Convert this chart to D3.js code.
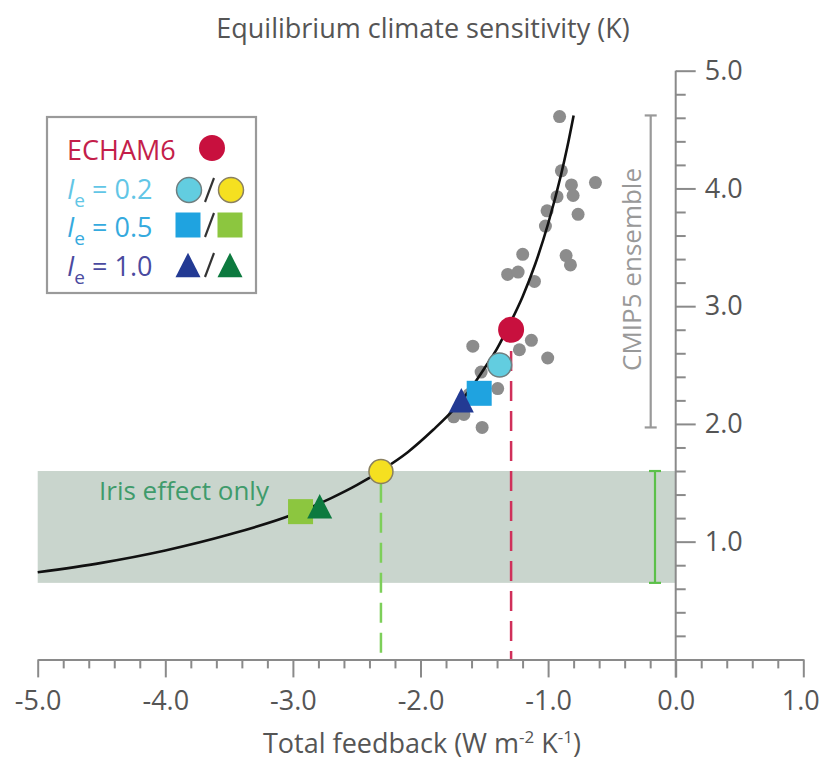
<!DOCTYPE html>
<html><head><meta charset="utf-8">
<script src="https://cdn.jsdelivr.net/npm/d3@7"></script>
<style>
html,body{margin:0;padding:0;background:#fff;}
svg{display:block;font-family:"Open Sans",Lato,sans-serif;}
</style></head>
<body><svg id="chart" width="821" height="763"></svg>
<script>
// ---- data ----
const curveLambda = [-5.0,-4.5,-4.0,-3.5,-3.0,-2.7,-2.5,-2.3,-2.1,-1.9,-1.75,-1.6,-1.5,-1.4,-1.3,-1.2,-1.1,-1.0,-0.9,-0.85,-0.8];
const curveECS    = [0.74,0.82,0.925,1.06,1.23,1.37,1.48,1.61,1.76,1.95,2.11,2.31,2.47,2.64,2.85,3.08,3.36,3.70,4.11,4.35,4.62];

const cmipLambda = [-0.91,-0.896,-0.817,-0.629,-0.804,-0.93,-1.008,-0.765,-1.021,-1.199,-0.859,-0.825,-1.317,-1.235,-1.107,-1.59,-1.131,-1.225,-1.003,-1.525,-1.395,-1.74,-1.66,-1.517,-1.62];
const cmipECS    = [4.61,4.15,4.03,4.05,3.94,3.93,3.81,3.78,3.68,3.44,3.43,3.35,3.27,3.29,3.21,2.66,2.71,2.63,2.56,2.44,2.30,2.06,2.08,1.97,2.25];

const markerNames  = ["ECHAM6","Ie0.2 cyan","Ie0.2 yellow","Ie0.5 blue","Ie0.5 green","Ie1.0 navy","Ie1.0 green"];
const markerLambda = [-1.29,-1.38,-2.31,-1.54,-2.94,-1.68,-2.79];
const markerECS    = [2.80,2.50,1.595,2.26,1.255,2.20,1.30];
const markerShape  = ["circle","circle","circle","square","square","triangle","triangle"];
const markerColor  = ["#c8103e","#62cde0","#f5e020","#1fa3e0","#8cc63f","#233a93","#0d7a3f"];
const markerStroke = [null,"#6f7f80","#8a8060",null,null,null,null];

const xTicks = [-5,-4,-3,-2,-1,0,1];
const xTickLabels = ["-5.0","-4.0","-3.0","-2.0","-1.0","0.0","1.0"];
const yTicks = [1,2,3,4,5];
const yTickLabels = ["1.0","2.0","3.0","4.0","5.0"];

const cmipRange = [1.97, 4.62];
const irisRange = [0.65, 1.60];
const irisLambda = [-5.0, 0.0];
const echamDrop = [-1.29, 2.62];
const irisDrop = [-2.31, 1.50];

const legendRows = [
  {label:"ECHAM6", color:"#c41e4a", sub:false, val:""},
  {label:"I", color:"#62c6e6", sub:true, val:" = 0.2"},
  {label:"I", color:"#35aade", sub:true, val:" = 0.5"},
  {label:"I", color:"#4a4aa0", sub:true, val:" = 1.0"}
];

// ---- drawing ----
const svg = d3.select("#chart");
const FONT = "'Open Sans',Lato,sans-serif";
const FS = 27;
const x = d3.scaleLinear().domain([-5, 1]).range([37.7, 803.3]);
const y = d3.scaleLinear().domain([0, 5]).range([659.4, 70.7]);
const axisGray = "#8a8a8a";
const textGray = "#555";

// Iris band
svg.append("rect")
  .attr("x", x(irisLambda[0])).attr("y", y(irisRange[1]))
  .attr("width", x(irisLambda[1]) - x(irisLambda[0]))
  .attr("height", y(irisRange[0]) - y(irisRange[1]))
  .attr("fill", "#c9d5cd");

svg.append("text").attr("x", 99).attr("y", 500)
  .attr("font-size", 26).attr("fill", "#3f9b6b").text("Iris effect only");

// dashed drop lines
svg.append("line").attr("x1", x(echamDrop[0])).attr("x2", x(echamDrop[0]))
  .attr("y1", y(echamDrop[1])).attr("y2", y(0)).attr("stroke", "#d0305a")
  .attr("stroke-width", 2.5).attr("stroke-dasharray", "20,10");
svg.append("line").attr("x1", x(irisDrop[0])).attr("x2", x(irisDrop[0]))
  .attr("y1", y(irisDrop[1])).attr("y2", y(0)).attr("stroke", "#7dcf5a")
  .attr("stroke-width", 2.5).attr("stroke-dasharray", "20,10");

// CMIP5 dots
svg.append("g").selectAll("circle").data(d3.range(cmipLambda.length)).join("circle")
  .attr("cx", i => x(cmipLambda[i])).attr("cy", i => y(cmipECS[i]))
  .attr("r", 6.5).attr("fill", "#8c8c8c");

// curve
const line = d3.line().x(i => x(curveLambda[i])).y(i => y(curveECS[i])).curve(d3.curveMonotoneX);
svg.append("path").attr("d", line(d3.range(curveLambda.length)))
  .attr("fill", "none").attr("stroke", "#111").attr("stroke-width", 2.6);

// markers
function drawMarker(g, shape, cx, cy, color, stroke, size) {
  if (shape === "circle") {
    g.append("circle").attr("cx", cx).attr("cy", cy).attr("r", size/2)
      .attr("fill", color).attr("stroke", stroke || "none").attr("stroke-width", stroke ? 1.5 : 0);
  } else if (shape === "square") {
    g.append("rect").attr("x", cx - size/2).attr("y", cy - size/2)
      .attr("width", size).attr("height", size).attr("fill", color);
  } else {
    const h = size * 0.98;
    g.append("path").attr("d", `M${cx},${cy - h/2}L${cx + size/2},${cy + h/2}L${cx - size/2},${cy + h/2}Z`)
      .attr("fill", color);
  }
}
const mg = svg.append("g");
const order = [3, 5, 4, 6, 1, 2, 0];
order.forEach(i => {
  const size = markerShape[i] === "circle" ? (i === 0 ? 26 : 24) : 25;
  drawMarker(mg, markerShape[i], x(markerLambda[i]), y(markerECS[i]), markerColor[i], markerStroke[i], size);
});

// CMIP5 range bar
const cmx = 650.7;
const cg = svg.append("g").attr("stroke", "#999").attr("stroke-width", 2.2);
cg.append("line").attr("x1", cmx).attr("x2", cmx).attr("y1", y(cmipRange[1])).attr("y2", y(cmipRange[0]));
cg.append("line").attr("x1", cmx - 6).attr("x2", cmx + 6).attr("y1", y(cmipRange[1])).attr("y2", y(cmipRange[1]));
cg.append("line").attr("x1", cmx - 6).attr("x2", cmx + 6).attr("y1", y(cmipRange[0])).attr("y2", y(cmipRange[0]));
svg.append("text").attr("transform", `translate(641,${(y(cmipRange[0]) + y(cmipRange[1])) / 2 - 2}) rotate(-90)`)
  .attr("text-anchor", "middle").attr("font-size", 26).attr("fill", "#999").text("CMIP5 ensemble");

// Iris range bar
const irx = 655;
const ig = svg.append("g").attr("stroke", "#5cc04a").attr("stroke-width", 2.2);
ig.append("line").attr("x1", irx).attr("x2", irx).attr("y1", y(irisRange[1])).attr("y2", y(irisRange[0]));
ig.append("line").attr("x1", irx - 6).attr("x2", irx + 6).attr("y1", y(irisRange[1])).attr("y2", y(irisRange[1]));
ig.append("line").attr("x1", irx - 6).attr("x2", irx + 6).attr("y1", y(irisRange[0])).attr("y2", y(irisRange[0]));

// bottom axis
const xAxis = d3.axisBottom(x).tickValues(xTicks).tickSize(18).tickSizeOuter(0)
  .tickFormat((d, i) => xTickLabels[i]);
const xg = svg.append("g").attr("transform", `translate(0,${y(0)})`).call(xAxis);
xg.select(".domain").attr("stroke", axisGray).attr("stroke-width", 2);
xg.selectAll(".tick line").attr("stroke", axisGray).attr("stroke-width", 2);
xg.selectAll(".tick text").attr("font-size", FS).attr("fill", textGray).attr("y", 31)
  .attr("dy", "0.71em").attr("font-family", FONT)
  .attr("x", d => d === 1 ? -3 : 0);
const xMinor = d3.axisBottom(x).tickValues(d3.range(-50, 11, 2).map(v => v / 10).filter(v => Math.abs(v - Math.round(v)) > 1e-6))
  .tickSize(9).tickFormat("");
const xmg = svg.append("g").attr("transform", `translate(0,${y(0)})`).call(xMinor);
xmg.select(".domain").remove();
xmg.selectAll(".tick line").attr("stroke", axisGray).attr("stroke-width", 2);

// right-side y axis at lambda = 0
const yAxis = d3.axisRight(y).tickValues(yTicks).tickSize(20)
  .tickFormat((d, i) => yTickLabels[i]);
const yg = svg.append("g").attr("transform", `translate(${x(0)},0)`).call(yAxis);
yg.select(".domain").remove();
yg.selectAll(".tick line").attr("stroke", axisGray).attr("stroke-width", 2);
yg.selectAll(".tick text").attr("font-size", FS).attr("fill", textGray).attr("x", 29)
  .attr("font-family", FONT);
svg.append("line").attr("x1", x(0)).attr("x2", x(0)).attr("y1", y(5)).attr("y2", y(0) + 18)
  .attr("stroke", axisGray).attr("stroke-width", 2);
const yMinor = d3.axisRight(y).tickValues(d3.range(1, 26).map(v => v / 5).filter(v => Math.abs(v - Math.round(v)) > 1e-6))
  .tickSize(10).tickFormat("");
const ymg = svg.append("g").attr("transform", `translate(${x(0)},0)`).call(yMinor);
ymg.select(".domain").remove();
ymg.selectAll(".tick line").attr("stroke", axisGray).attr("stroke-width", 2);

// axis titles
svg.append("text").attr("x", 423).attr("y", 38).attr("text-anchor", "middle")
  .attr("font-size", FS).attr("fill", textGray).text("Equilibrium climate sensitivity (K)");
const xt = svg.append("text").attr("x", 422).attr("y", 753).attr("text-anchor", "middle")
  .attr("font-size", FS).attr("fill", textGray);
xt.append("tspan").text("Total feedback (W m");
xt.append("tspan").attr("font-size", 17).attr("dy", -10).text("-2");
xt.append("tspan").attr("dy", 10).text(" K");
xt.append("tspan").attr("font-size", 17).attr("dy", -10).text("-1");
xt.append("tspan").attr("dy", 10).text(")");

// legend
const lg = svg.append("g");
lg.append("rect").attr("x", 47).attr("y", 117).attr("width", 209).attr("height", 176)
  .attr("fill", "#fff").attr("stroke", "#9a9a9a").attr("stroke-width", 2.2);
const rowY = [160, 199, 237, 276];
legendRows.forEach((r, i) => {
  const t = lg.append("text").attr("x", 67).attr("y", rowY[i]).attr("font-size", FS).attr("fill", r.color);
  if (r.sub) {
    t.append("tspan").attr("font-style", "italic").text(r.label);
    t.append("tspan").attr("font-size", 19).attr("dy", 8).text("e");
    t.append("tspan").attr("dy", -8).text(r.val);
  } else {
    t.text(r.label);
  }
});
// legend markers
drawMarker(lg, "circle", 212, 148, markerColor[0], null, 26);
drawMarker(lg, "circle", 189, 190, markerColor[1], markerStroke[1], 25);
drawMarker(lg, "circle", 231, 190, markerColor[2], markerStroke[2], 25);
drawMarker(lg, "square", 188, 225, markerColor[3], null, 25);
drawMarker(lg, "square", 230, 225, markerColor[4], null, 25);
drawMarker(lg, "triangle", 188, 265, markerColor[5], null, 25);
drawMarker(lg, "triangle", 230, 265, markerColor[6], null, 25);
[190, 225, 265].forEach(cy => {
  lg.append("line").attr("x1", 205).attr("x2", 214).attr("y1", cy + 12).attr("y2", cy - 12)
    .attr("stroke", "#333").attr("stroke-width", 2.2);
});
</script></body></html>
